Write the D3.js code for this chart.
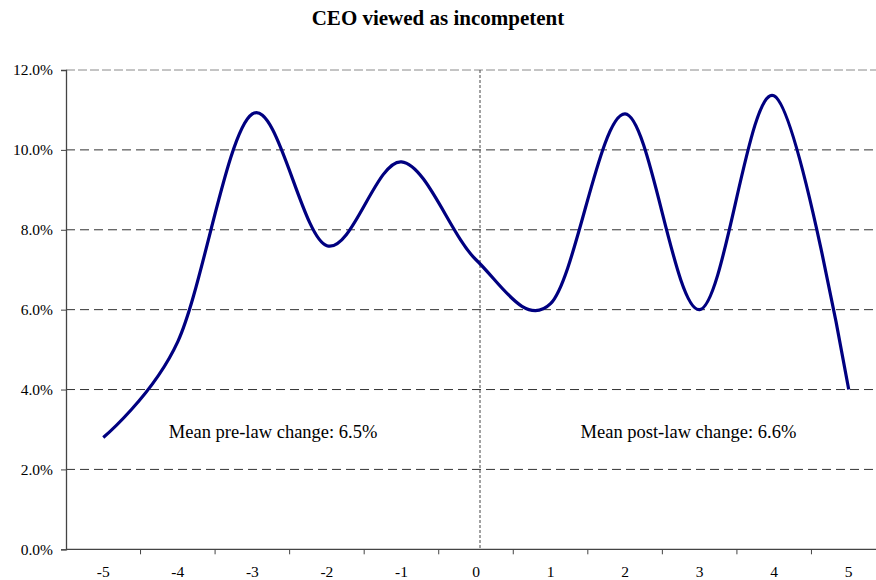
<!DOCTYPE html>
<html><head><meta charset="utf-8">
<script src="https://cdn.jsdelivr.net/npm/d3@7"></script>
<style>body{margin:0;background:#fff}svg{display:block}</style>
</head><body>
<svg id="c" width="876" height="580"></svg>
<script>
const categories = ["-5","-4","-3","-2","-1","0","1","2","3","4","5"];
const values = [2.8, 5.2, 10.9, 7.6, 9.7, 7.25, 6.15, 10.9, 6.0, 11.35, 4.0];
const yTicks = [0, 2, 4, 6, 8, 10, 12];
const title = "CEO viewed as incompetent";
const notes = [
  {text: "Mean pre-law change: 6.5%", cat: "-4", dx: -9},
  {text: "Mean post-law change: 6.6%", cat: "1", dx: 30}
];
const noteLevel = 2.78;

(function () {
const svg = d3.select("#c");
const font = "'Liberation Serif','Times New Roman',serif";
const pLeft = 66, pRight = 886, pTop = 70, pBottom = 549.3;

const x = d3.scalePoint().domain(categories).range([pLeft, pRight]).padding(0.5);
const step = x.step();
const y = d3.scaleLinear().domain([0, 12]).range([pBottom, pTop]);

// gridlines
svg.append("g").selectAll("line").data(yTicks.filter(d => d > 0)).join("line")
  .attr("x1", pLeft).attr("x2", pRight)
  .attr("y1", d => y(d)).attr("y2", d => y(d))
  .attr("stroke", d => d === 12 ? "#8a8a8a" : "#333")
  .attr("stroke-width", 1)
  .attr("stroke-dasharray", d => d === 12 ? "9,3" : "9,5");

// vertical divider near 0
const xv = x("0") + 4;
svg.append("line").attr("x1", xv).attr("x2", xv).attr("y1", pTop).attr("y2", pBottom)
  .attr("stroke", "#444").attr("stroke-width", 1).attr("stroke-dasharray", "3,2");

// axes
const yAxis = d3.axisLeft(y).tickValues(yTicks).tickSize(5).tickFormat(d => d.toFixed(1) + "%");
const gy = svg.append("g").attr("transform", `translate(${pLeft},0)`).call(yAxis);
gy.select(".domain").attr("stroke", "#444").attr("stroke-width", 1.3);
gy.selectAll(".tick line").attr("stroke", "#444");
gy.selectAll(".tick text").attr("font-family", font).attr("font-size", 15.5).attr("fill", "#000").attr("x", -13);

const xAxisG = svg.append("g").attr("transform", `translate(0,${pBottom})`);
xAxisG.append("line").attr("x1", pLeft).attr("x2", pRight).attr("stroke", "#444").attr("stroke-width", 1.3);
xAxisG.selectAll("line.t").data(categories.slice(1)).join("line").attr("class", "t")
  .attr("x1", d => x(d) - step / 2).attr("x2", d => x(d) - step / 2)
  .attr("y1", 0).attr("y2", 5).attr("stroke", "#444");
xAxisG.selectAll("text").data(categories).join("text")
  .attr("x", d => x(d)).attr("y", 28).attr("text-anchor", "middle")
  .attr("font-family", font).attr("font-size", 15.5).text(d => d);

// line
const line = d3.line().x((d, i) => x(categories[i])).y(d => y(d)).curve(d3.curveCardinal.tension(0));
svg.append("path").datum(values).attr("d", line)
  .attr("fill", "none").attr("stroke", "#000080").attr("stroke-width", 3.2)
  .attr("stroke-linejoin", "round").attr("stroke-linecap", "butt");

// notes
svg.selectAll("text.note").data(notes).join("text").attr("class", "note")
  .attr("x", d => x(d.cat) + d.dx).attr("y", y(noteLevel))
  .attr("font-family", font).attr("font-size", 18.5).text(d => d.text);

// title
svg.append("text").attr("x", 438).attr("y", 25).attr("text-anchor", "middle")
  .attr("font-family", font).attr("font-size", 21).attr("font-weight", "bold").text(title);
})();
</script>
</body></html>
